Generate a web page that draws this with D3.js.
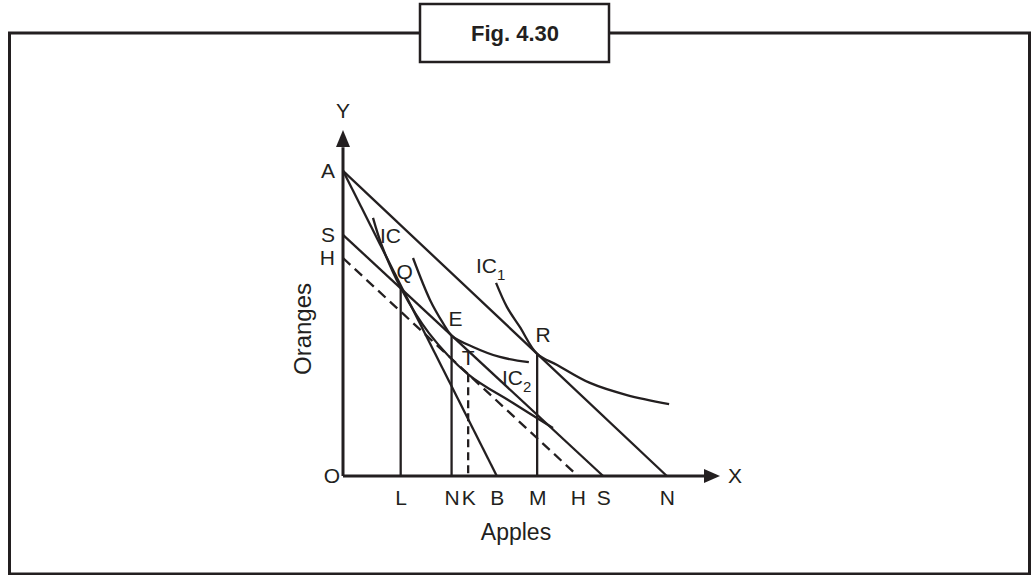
<!DOCTYPE html>
<html>
<head>
<meta charset="utf-8">
<script src="https://cdn.jsdelivr.net/npm/d3@7"></script>
<style>
  body { margin: 0; background: #fff; }
  svg text { font-family: "Liberation Sans", Arial, sans-serif; fill: #231f20; }
</style>
</head>
<body>
<svg width="1031" height="575"></svg>
<script>
// Tick labels along the axes (values in abstract units, 0..100)
const xTicks = [15.3, 28.8, 33.2, 40.8, 51.5, 62.3, 69.0, 85.9]
const xTickLabels = ['L', 'N', 'K', 'B', 'M', 'H', 'S', 'N']
const yTicks = [88.2, 69.7, 63.0]
const yTickLabels = ['A', 'S', 'H']

// Budget lines (intercepts on Y and X)
const lineAN = [[0, 88.2], [85.9, 0]]
const lineAB = [[0, 88.2], [40.8, 0]]
const lineSS = [[0, 69.7], [69.0, 0]]
const lineHH = [[0, 63.0], [62.3, 0]]

// Indifference curves
const curveIC = [[7.96, 74.6], [10.34, 66.5], [15.3, 54.4], [22.8, 41.3], [33.2, 29.4], [45.1, 21.1], [55.7, 13.9]]
const curveIC2 = [[18.57, 63.0], [23.08, 50.9], [26.53, 44.2], [28.8, 40.6], [34.5, 37.3], [41.6, 34.4], [49.3, 32.9]]
const curveIC1 = [[40.6, 55.8], [43.5, 48.8], [46.9, 43.1], [51.5, 35.3], [56.8, 32.1], [65.5, 26.9], [75.3, 23.4], [86.5, 20.8]]

// Equilibrium points
const pointNames = ['Q', 'E', 'T', 'R']
const pointValues = [[15.3, 54.4], [28.8, 40.6], [33.2, 29.4], [51.5, 35.3]]

const ink = '#231f20'
const lw = 2.3
const svg = d3.select('svg')

// frame and title box
svg.append('rect')
  .attr('x', 9.5).attr('y', 33).attr('width', 1020).attr('height', 541)
  .attr('fill', 'none').attr('stroke', ink).attr('stroke-width', 3)
svg.append('rect')
  .attr('x', 420).attr('y', 4).attr('width', 189).attr('height', 58)
  .attr('fill', '#fff').attr('stroke', ink).attr('stroke-width', 2.5)
svg.append('text')
  .attr('x', 515).attr('y', 41)
  .attr('text-anchor', 'middle')
  .attr('font-size', 22).attr('font-weight', 'bold')
  .text('Fig. 4.30')

const x = d3.scaleLinear().domain([0, 100]).range([343, 720])
const y = d3.scaleLinear().domain([0, 100]).range([476, 130])

const g = svg.append('g')

// axes with arrow heads
g.append('line')
  .attr('x1', x(0)).attr('y1', y(0)).attr('x2', x(96)).attr('y2', y(0))
  .attr('stroke', ink).attr('stroke-width', 3)
g.append('line')
  .attr('x1', x(0)).attr('y1', y(0)).attr('x2', x(0)).attr('y2', y(95))
  .attr('stroke', ink).attr('stroke-width', 3)
g.append('path')
  .attr('d', `M${x(100)},${y(0)} L${x(100) - 16},${y(0) - 7} L${x(100) - 16},${y(0) + 7} Z`)
  .attr('fill', ink)
g.append('path')
  .attr('d', `M${x(0)},${y(100)} L${x(0) - 7},${y(100) + 17} L${x(0) + 7},${y(100) + 17} Z`)
  .attr('fill', ink)

const xAxis = d3.axisBottom(x)
  .tickValues(xTicks)
  .tickFormat((d, i) => xTickLabels[i])
  .tickSize(0)
  .tickPadding(14)
g.append('g')
  .attr('transform', `translate(0,${y(0)})`)
  .call(xAxis)
  .call(a => a.select('.domain').remove())
  .selectAll('text')
  .attr('font-size', 21)
  .attr('font-family', '"Liberation Sans", Arial, sans-serif')
  .attr('fill', ink)

const yAxis = d3.axisLeft(y)
  .tickValues(yTicks)
  .tickFormat((d, i) => yTickLabels[i])
  .tickSize(0)
  .tickPadding(8)
g.append('g')
  .attr('transform', `translate(${x(0)},0)`)
  .call(yAxis)
  .call(a => a.select('.domain').remove())
  .selectAll('text')
  .attr('font-size', 21)
  .attr('font-family', '"Liberation Sans", Arial, sans-serif')
  .attr('fill', ink)

// axis letters and titles
const label = (tx, ty, txt, size, anchor) =>
  g.append('text')
    .attr('x', tx).attr('y', ty)
    .attr('dy', '0.35em')
    .attr('text-anchor', anchor || 'middle')
    .attr('font-size', size || 21)
    .text(txt)

label(x(0) - 3, y(0), 'O', 21, 'end')
label(x(0), y(100) - 19, 'Y')
label(x(100) + 15, y(0), 'X')
label(516, 532, 'Apples', 23)
g.append('text')
  .attr('transform', `translate(303,${y(42.5)}) rotate(-90)`)
  .attr('dy', '0.35em')
  .attr('text-anchor', 'middle')
  .attr('font-size', 24)
  .text('Oranges')

// budget lines
const line = d3.line().x(d => x(d[0])).y(d => y(d[1]))
;[lineAN, lineAB, lineSS].forEach(l => {
  g.append('path').attr('d', line(l))
    .attr('fill', 'none').attr('stroke', ink).attr('stroke-width', lw)
})
g.append('path').attr('d', line(lineHH))
  .attr('fill', 'none').attr('stroke', ink).attr('stroke-width', lw)
  .attr('stroke-dasharray', '10,6')

// indifference curves
const curve = d3.line().x(d => x(d[0])).y(d => y(d[1])).curve(d3.curveCatmullRom.alpha(0.5))
;[curveIC, curveIC1, curveIC2].forEach(c => {
  g.append('path').attr('d', curve(c))
    .attr('fill', 'none').attr('stroke', ink).attr('stroke-width', lw)
})

// drop lines from the points to the X axis
pointValues.forEach((p, i) => {
  g.append('line')
    .attr('x1', x(p[0])).attr('y1', y(p[1]))
    .attr('x2', x(p[0])).attr('y2', y(0))
    .attr('stroke', ink).attr('stroke-width', lw)
    .attr('stroke-dasharray', pointNames[i] === 'T' ? '8,5' : null)
})

// point labels
const pointOffsets = { Q: [4, -16], E: [4, -17], T: [0, -17], R: [6, -19] }
pointValues.forEach((p, i) => {
  const o = pointOffsets[pointNames[i]]
  label(x(p[0]) + o[0], y(p[1]) + o[1], pointNames[i])
})

// curve labels
const icLabel = (tx, ty, sub) => {
  const t = g.append('text')
    .attr('x', tx).attr('y', ty)
    .attr('dy', '0.35em')
    .attr('font-size', 21)
    .text('IC')
  if (sub) {
    t.append('tspan')
      .attr('font-size', 15)
      .attr('dy', 7)
      .text(sub)
  }
}
icLabel(380, 236)
icLabel(476, 266, '1')
icLabel(502, 378, '2')
</script>
</body>
</html>
